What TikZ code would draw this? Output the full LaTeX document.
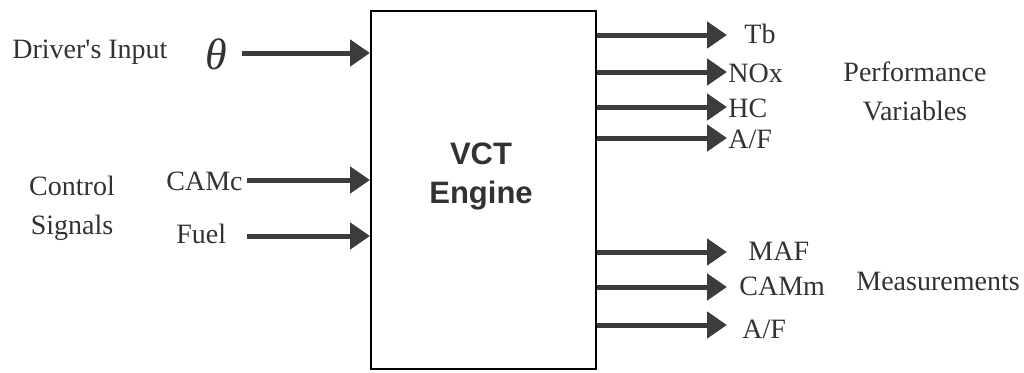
\documentclass[tikz,border=0pt]{standalone}
\usepackage{fontspec}
\setmainfont{Liberation Serif}
\setsansfont{Liberation Sans}
\usetikzlibrary{positioning, arrows.meta}
\definecolor{sigcol}{RGB}{60,60,60}
\definecolor{txtcol}{RGB}{50,50,50}

\begin{document}
\begin{tikzpicture}[x=0.5pt, y=-0.5pt,
        engine/.style={draw=black, line width=1pt, rectangle, minimum width=112.5pt, minimum height=179pt},
        title/.style={align=center, inner sep=0pt, text=txtcol, font=\sffamily\bfseries\fontsize{15.5}{19.5}\selectfont},
        lbl/.style={anchor=base west, inner sep=0pt, text=txtcol, font=\fontsize{14}{19.5}\selectfont},
        grp/.style={align=center, inner sep=0pt, text=txtcol, font=\fontsize{14}{19.5}\selectfont},
        sig/.style={-{Triangle[length=10pt, width=13pt]}, line width=2.5pt, draw=sigcol}
    ]
    \useasboundingbox (0,0) rectangle (1024,372);

    % --- Engine ---
    \node[engine] (vct) at (483.5,190) {};
    \node[title] (vcttxt) at (481,176) {VCT\\Engine};

    % --- Inputs ---
    \node[lbl] (driver) at (12,58) {Driver\textquotesingle s Input};
    \node[lbl, font=\itshape\fontsize{22}{24}\selectfont] (theta) at (205,69) {θ};
    \node[lbl] (camc) at (166,190) {CAMc};
    \node[lbl] (fuel) at (176,243) {Fuel};
    \node[grp] (ctrl) at (72,208) {Control\\Signals};

    \coordinate (thetaIn) at (242,53);
    \coordinate (camcIn) at (247,180);
    \coordinate (fuelIn) at (247,236);

    % --- Performance variables ---
    \coordinate (tbOut) at (727,35);
    \coordinate (noxOut) at (727,72);
    \coordinate (hcOut) at (727,107);
    \coordinate (afpOut) at (727,138);
    \node[lbl] (tb) at (744,43) {Tb};
    \node[lbl] (nox) at (728,82) {NOx};
    \node[lbl] (hc) at (728,117) {HC};
    \node[lbl] (afp) at (728,148) {A/F};
    \node[grp] (perf) at (915,91) {Performance\\Variables};

    % --- Measurements ---
    \coordinate (mafOut) at (727,252);
    \coordinate (cammOut) at (727,287);
    \coordinate (afmOut) at (727,325);
    \node[lbl] (maf) at (748,260) {MAF};
    \node[lbl] (camm) at (739,295) {CAMm};
    \node[lbl] (afm) at (742,338) {A/F};
    \node[lbl] (meas) at (856,290) {Measurements};

    % --- Arrows ---
    \draw[sig] (thetaIn) -- (thetaIn -| vct.west);
    \draw[sig] (camcIn) -- (camcIn -| vct.west);
    \draw[sig] (fuelIn) -- (fuelIn -| vct.west);
    \draw[sig] (vct.east |- tbOut) -- (tbOut);
    \draw[sig] (vct.east |- noxOut) -- (noxOut);
    \draw[sig] (vct.east |- hcOut) -- (hcOut);
    \draw[sig] (vct.east |- afpOut) -- (afpOut);
    \draw[sig] (vct.east |- mafOut) -- (mafOut);
    \draw[sig] (vct.east |- cammOut) -- (cammOut);
    \draw[sig] (vct.east |- afmOut) -- (afmOut);

\end{tikzpicture}
\end{document}
